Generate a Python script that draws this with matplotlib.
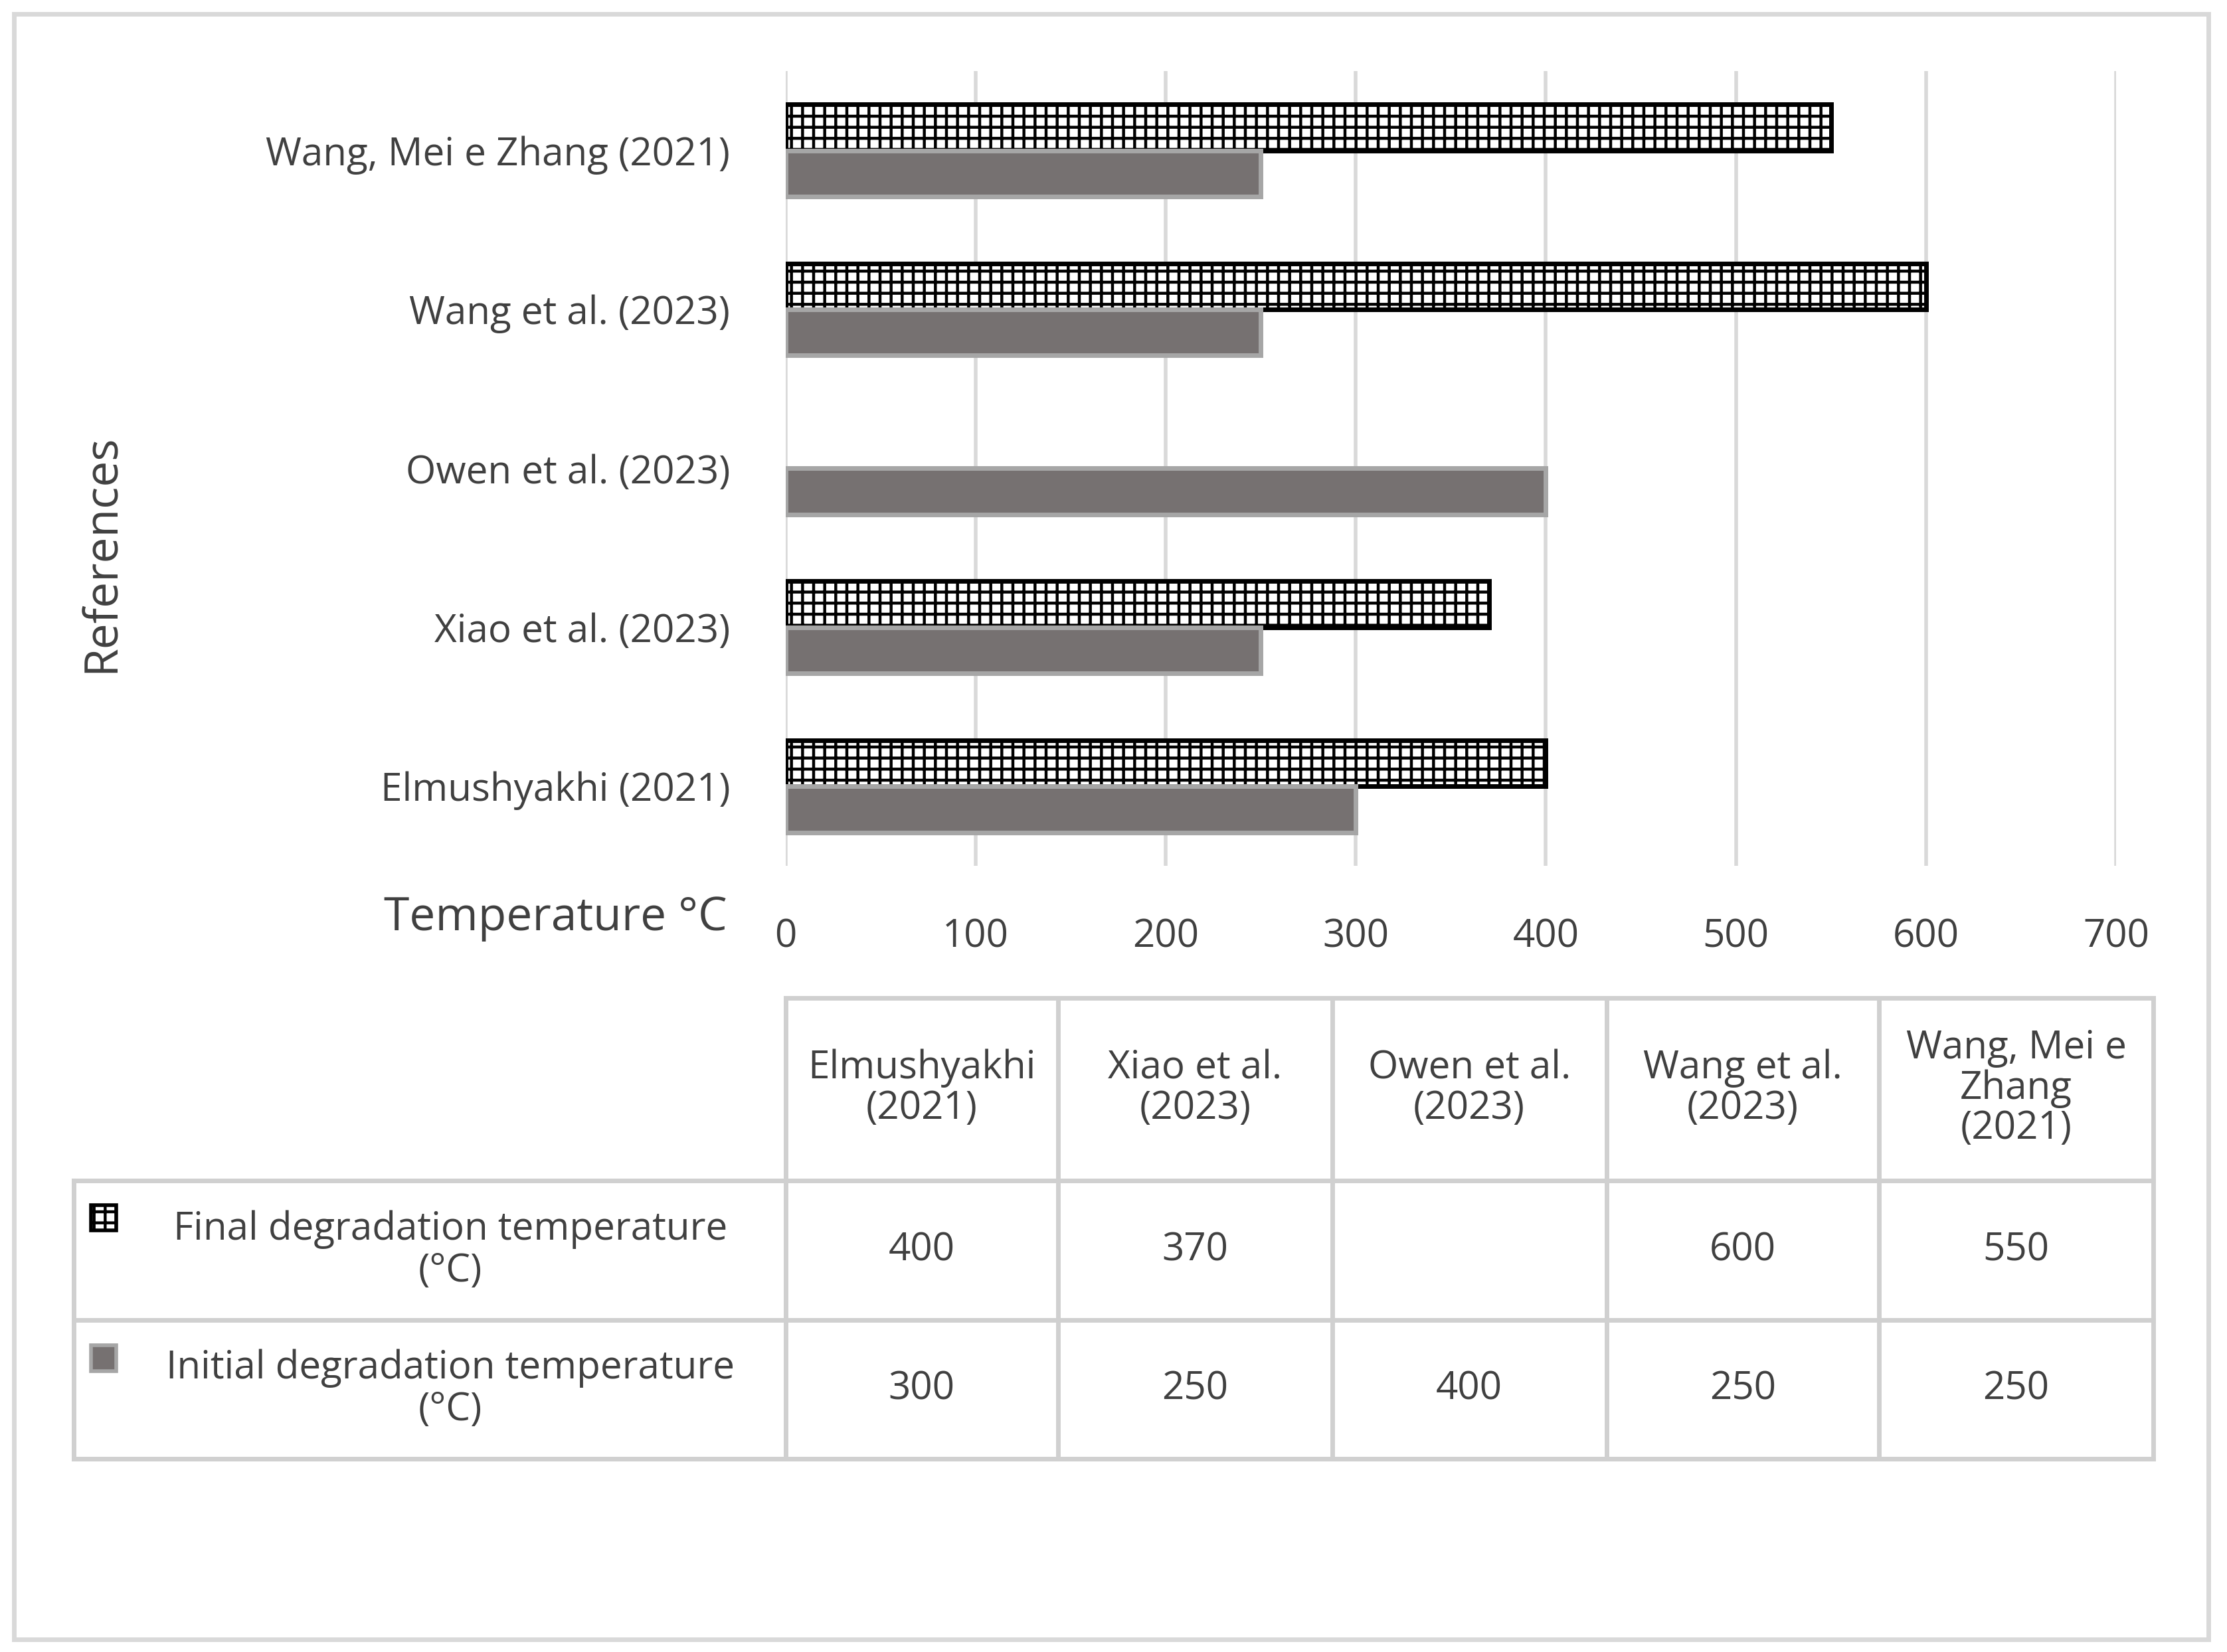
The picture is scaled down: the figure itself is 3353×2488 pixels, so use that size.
import matplotlib.pyplot as plt
from matplotlib.patches import Rectangle

plt.rcParams['font.family'] = ['Open Sans', 'DejaVu Sans']
plt.rcParams['hatch.linewidth'] = 1.6

references = ['Elmushyakhi (2021)', 'Xiao et al. (2023)', 'Owen et al. (2023)',
              'Wang et al. (2023)', 'Wang, Mei e Zhang (2021)']
table_headers = ['Elmushyakhi\n(2021)', 'Xiao et al.\n(2023)', 'Owen et al.\n(2023)',
                 'Wang et al.\n(2023)', 'Wang, Mei e\nZhang\n(2021)']
final_temp = [400, 370, None, 600, 550]
initial_temp = [300, 250, 400, 250, 250]
xticks = [0, 100, 200, 300, 400, 500, 600, 700]

W, H = 1568, 1164
fig = plt.figure(figsize=(16.765, 12.44), dpi=200)

def fx(px):
    return px / W

def fy(py):
    return 1 - py / H

ax = fig.add_axes([fx(553), fy(610), fx(1490) - fx(553), fy(50) - fy(610)])
ypos = list(range(len(references)))
h = 0.29
fin_y = [y + h / 2 for y, v in zip(ypos, final_temp) if v is not None]
fin_v = [v for v in final_temp if v is not None]
ax.barh(fin_y, fin_v, height=h, color='white', edgecolor='black',
        hatch='++', linewidth=2.5, zorder=3)
ax.barh([y - h / 2 for y in ypos], initial_temp, height=h, color='#767171',
        edgecolor='#a6a6a6', linewidth=2.5, zorder=3)
ax.set_xlim(0, 700)
ax.set_ylim(-0.5, 4.5)
ax.set_xticks(xticks)
ax.grid(axis='x', color='#d9d9d9', linewidth=2, zorder=0)
ax.set_yticks(ypos)
ax.set_yticklabels(references, fontsize=21, color='#404040')
ax.tick_params(length=0, pad=30, labelsize=21, labelcolor='#404040')
ax.tick_params(axis='x', pad=28)
for s in ax.spines.values():
    s.set_visible(False)

fig.text(fx(512), fy(647), 'Temperature °C', fontsize=25, color='#404040',
         ha='right', va='center')
fig.text(fx(72), fy(390), 'References', fontsize=25, color='#404040',
         rotation=90, ha='center', va='center')

# data table
lc = '#d0d0d0'
cols = [553, 745, 938, 1131, 1323, 1516]
rows = [703, 832, 930, 1028]
lw = 2.5
for c in cols:
    fig.add_artist(plt.Line2D([fx(c)] * 2, [fy(703), fy(1028)], color=lc, lw=lw))
fig.add_artist(plt.Line2D([fx(52)] * 2, [fy(832), fy(1028)], color=lc, lw=lw))
fig.add_artist(plt.Line2D([fx(553), fx(1516)], [fy(703)] * 2, color=lc, lw=lw))
for r in rows[1:]:
    fig.add_artist(plt.Line2D([fx(52), fx(1516)], [fy(r)] * 2, color=lc, lw=lw))

for i, lab in enumerate(table_headers):
    cx = (cols[i] + cols[i + 1]) / 2
    fig.text(fx(cx), fy(767), lab, fontsize=21, color='#404040', ha='center',
             va='center', linespacing=1.05)

row_labels = ['Final degradation temperature\n(°C)', 'Initial degradation temperature\n(°C)']
for j, (lab, vals) in enumerate(zip(row_labels, [final_temp, initial_temp])):
    cy = (rows[j + 1] + rows[j + 2]) / 2
    fig.text(fx(317), cy and fy(cy), lab, fontsize=21, color='#404040',
             ha='center', va='center', linespacing=1.1)
    if j == 0:
        key = Rectangle((fx(64), fy(867)), fx(18), fy(0) - fy(18), transform=fig.transFigure,
                        facecolor='white', edgecolor='black', hatch='++', lw=2)
    else:
        key = Rectangle((fx(64), fy(966)), fx(18), fy(0) - fy(18), transform=fig.transFigure,
                        facecolor='#767171', edgecolor='#a6a6a6', lw=2)
    fig.add_artist(key)
    for i, v in enumerate(vals):
        if v is None:
            continue
        cx = (cols[i] + cols[i + 1]) / 2
        fig.text(fx(cx), fy(cy), str(v), fontsize=21, color='#404040',
                 ha='center', va='center')

fig.add_artist(Rectangle((fx(10), fy(1155)), fx(1545), fy(10) - fy(1155),
                         transform=fig.transFigure, fill=False, edgecolor='#d9d9d9', lw=2.5))

fig.savefig('out.png', dpi=200)
